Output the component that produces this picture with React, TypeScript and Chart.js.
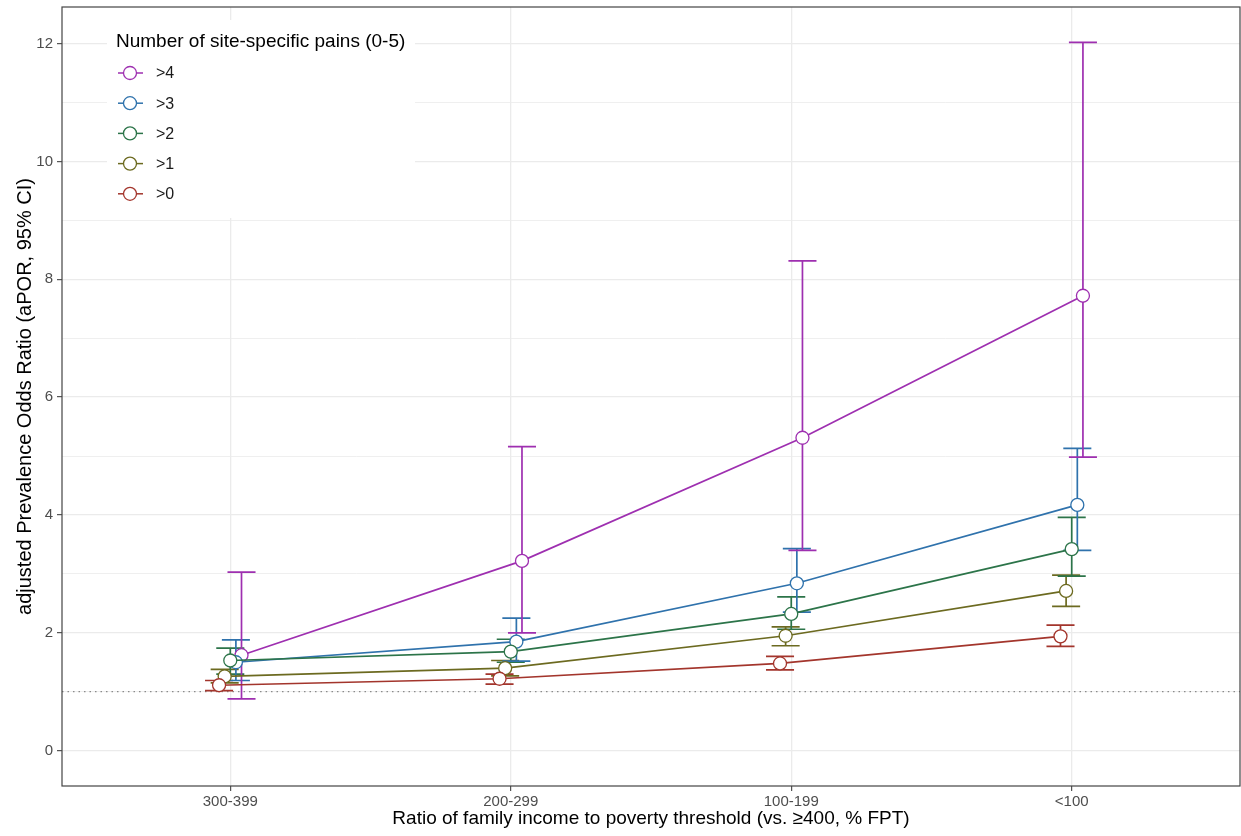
import React, { useEffect, useRef } from "react";
import { Chart, registerables } from "chart.js";

Chart.register(...registerables);

const categories = ["300-399", "200-299", "100-199", "<100"];
const seriesNames = [">4", ">3", ">2", ">1", ">0"];
const seriesColors = ["#9E2FB0", "#2F72AC", "#2C7449", "#6C6A20", "#A3352C"];
const dodge = [0.04, 0.02, 0, -0.02, -0.04];

const est4 = [1.62, 3.22, 5.31, 7.72];
const lo4 = [0.88, 2.0, 3.4, 4.98];
const hi4 = [3.03, 5.16, 8.31, 12.02];

const est3 = [1.5, 1.85, 2.84, 4.17];
const lo3 = [1.19, 1.52, 2.35, 3.4];
const hi3 = [1.88, 2.25, 3.43, 5.13];

const est2 = [1.53, 1.68, 2.32, 3.42];
const lo2 = [1.3, 1.5, 2.06, 2.96];
const hi2 = [1.74, 1.89, 2.61, 3.96];

const est1 = [1.26, 1.4, 1.95, 2.71];
const lo1 = [1.15, 1.27, 1.78, 2.45];
const hi1 = [1.38, 1.53, 2.1, 2.98];

const est0 = [1.11, 1.22, 1.48, 1.94];
const lo0 = [1.02, 1.13, 1.37, 1.77];
const hi0 = [1.19, 1.3, 1.6, 2.13];

const estimates = [est4, est3, est2, est1, est0];
const lowers = [lo4, lo3, lo2, lo1, lo0];
const uppers = [hi4, hi3, hi2, hi1, hi0];

const yTicks = [0, 2, 4, 6, 8, 10, 12];
const yMinorTicks = [1, 3, 5, 7, 9, 11];
const referenceValue = 1;

const legendTitle = "Number of site-specific pains (0-5)";
const xTitle = "Ratio of family income to poverty threshold (vs. ≥400, % FPT)";
const yTitle = "adjusted Prevalence Odds Ratio (aPOR, 95% CI)";

const FONT = "'Liberation Sans', Arial, sans-serif";

export default function App() {
  const ref = useRef<HTMLCanvasElement | null>(null);

  useEffect(() => {
    if (!ref.current) return;

    const datasets = seriesNames.map((name, s) => ({
      label: name,
      data: estimates[s].map((v, i) => ({ x: i + 1 + dodge[s], y: v })),
      borderColor: seriesColors[s],
      backgroundColor: "#ffffff",
      pointBackgroundColor: "#ffffff",
      pointBorderColor: seriesColors[s],
      pointBorderWidth: 1.3,
      pointRadius: 6.5,
      borderWidth: 1.7,
      showLine: true,
      tension: 0,
      order: seriesNames.length - s,
    }));

    const noPad = (scale: any) => {
      scale.paddingTop = 0;
      scale.paddingBottom = 0;
      scale.paddingLeft = 0;
      scale.paddingRight = 0;
    };

    const panelPlugin = {
      id: "panel",
      beforeDatasetsDraw(chart: any) {
        const { ctx, chartArea, scales } = chart;
        const y = scales.y;
        const x = scales.x;
        ctx.save();
        ctx.strokeStyle = "#8a8a8a";
        ctx.lineWidth = 1.2;
        ctx.setLineDash([1.5, 4]);
        const yr = y.getPixelForValue(referenceValue);
        ctx.beginPath();
        ctx.moveTo(chartArea.left, yr);
        ctx.lineTo(chartArea.right, yr);
        ctx.stroke();
        ctx.restore();

        ctx.save();
        ctx.lineWidth = 1.7;
        for (let s = seriesNames.length - 1; s >= 0; s--) {
          ctx.strokeStyle = seriesColors[s];
          for (let i = 0; i < categories.length; i++) {
            const px = x.getPixelForValue(i + 1 + dodge[s]);
            const half = x.getPixelForValue(1.05) - x.getPixelForValue(1);
            const py1 = y.getPixelForValue(lowers[s][i]);
            const py2 = y.getPixelForValue(uppers[s][i]);
            ctx.beginPath();
            ctx.moveTo(px, py1);
            ctx.lineTo(px, py2);
            ctx.moveTo(px - half, py1);
            ctx.lineTo(px + half, py1);
            ctx.moveTo(px - half, py2);
            ctx.lineTo(px + half, py2);
            ctx.stroke();
          }
        }
        ctx.restore();
      },
      afterDraw(chart: any) {
        const { ctx, chartArea } = chart;
        ctx.save();
        ctx.strokeStyle = "#444444";
        ctx.lineWidth = 1.2;
        ctx.strokeRect(chartArea.left, chartArea.top, chartArea.right - chartArea.left, chartArea.bottom - chartArea.top);

        const bx = 107, by = 20, bw = 308, bh = 198;
        ctx.fillStyle = "#ffffff";
        ctx.fillRect(bx, by, bw, bh);
        ctx.fillStyle = "#000000";
        ctx.font = `19px ${FONT}`;
        ctx.textBaseline = "middle";
        ctx.textAlign = "left";
        ctx.fillText(legendTitle, 116, 42);
        ctx.font = `16px ${FONT}`;
        seriesNames.forEach((name, s) => {
          const cy = 73 + s * 30.2;
          const cx = 130;
          ctx.strokeStyle = seriesColors[s];
          ctx.lineWidth = 1.5;
          ctx.beginPath();
          ctx.moveTo(118, cy);
          ctx.lineTo(143, cy);
          ctx.stroke();
          ctx.beginPath();
          ctx.arc(cx, cy, 6.5, 0, Math.PI * 2);
          ctx.fillStyle = "#ffffff";
          ctx.fill();
          ctx.lineWidth = 1.3;
          ctx.stroke();
          ctx.fillStyle = "#1a1a1a";
          ctx.fillText(name, 156, cy + 1);
        });
        ctx.restore();
      },
    };

    const chart = new Chart(ref.current, {
      type: "scatter",
      data: { datasets: datasets as any },
      options: {
        animation: false,
        responsive: false,
        maintainAspectRatio: false,
        devicePixelRatio: 1,
        layout: { autoPadding: false, padding: { top: 7, right: 1, left: 0, bottom: 0 } },
        plugins: {
          legend: { display: false },
          tooltip: { enabled: false },
        },
        scales: {
          x: {
            type: "linear",
            min: 0.4,
            max: 4.6,
            afterBuildTicks: (scale: any) => {
              scale.ticks = categories.map((_, i) => ({ value: i + 1 }));
            },
            afterFit: (scale: any) => {
              scale.height = 50;
              noPad(scale);
            },
            ticks: {
              autoSkip: false,
              maxRotation: 0,
              padding: 2,
              color: "#4d4d4d",
              font: { family: FONT, size: 15 },
              callback: (v: any) => categories[Math.round(Number(v)) - 1] ?? "",
            },
            grid: {
              color: "#ebebeb",
              lineWidth: 1.3,
              tickLength: 5,
              tickColor: "#444444",
              tickWidth: 1.1,
            } as any,
            border: { display: false },
            title: {
              display: true,
              text: xTitle,
              color: "#000000",
              font: { family: FONT, size: 19 },
              padding: { top: 0, bottom: 6 },
            },
          },
          y: {
            type: "linear",
            min: -0.6,
            max: 12.62,
            afterBuildTicks: (scale: any) => {
              const all = [...yTicks, ...yMinorTicks].sort((a, b) => a - b);
              scale.ticks = all.map((v) => ({ value: v }));
            },
            afterFit: (scale: any) => {
              scale.width = 62;
              noPad(scale);
            },
            ticks: {
              autoSkip: false,
              padding: 4,
              color: "#4d4d4d",
              font: { family: FONT, size: 15 },
              callback: (v: any) => (yTicks.includes(Number(v)) ? String(v) : ""),
            },
            grid: {
              color: "#ebebeb",
              lineWidth: (c: any) => (yTicks.includes(c.tick?.value) ? 1.3 : 0.8),
              tickLength: 5,
              tickColor: (c: any) => (yTicks.includes(c.tick?.value) ? "#444444" : "rgba(0,0,0,0)"),
              tickWidth: 1.1,
            } as any,
            border: { display: false },
            title: {
              display: true,
              text: yTitle,
              color: "#000000",
              font: { family: FONT, size: 20 },
              padding: { top: 13, bottom: 0 },
            },
          },
        },
      },
      plugins: [panelPlugin],
    });

    return () => chart.destroy();
  }, []);

  return (
    <div style={{ position: "fixed", left: 0, top: 0, width: 1241, height: 836, background: "#ffffff" }}>
      <canvas ref={ref} width={1241} height={836} style={{ display: "block", width: 1241, height: 836 }} />
    </div>
  );
}
